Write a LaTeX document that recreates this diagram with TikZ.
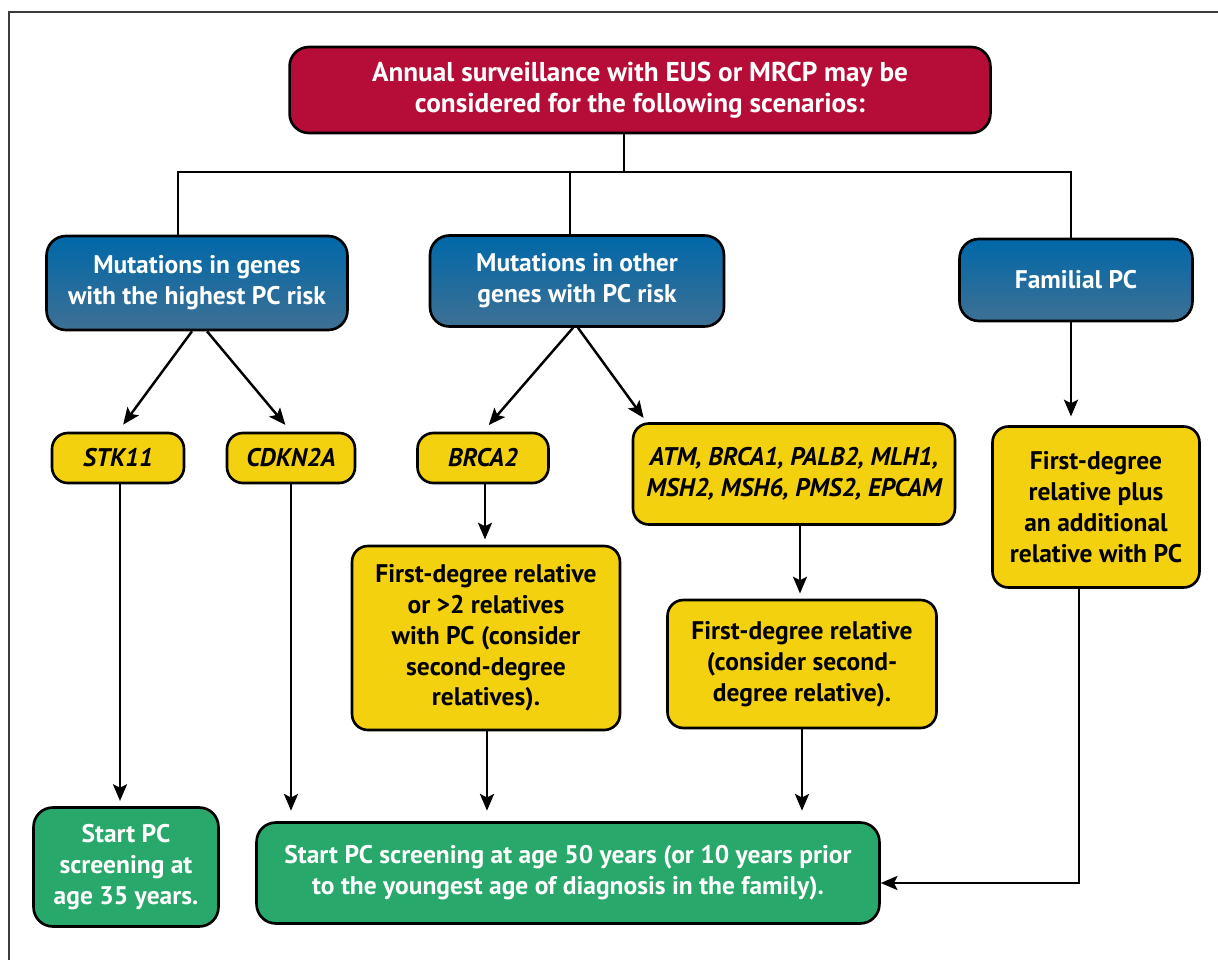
\documentclass[tikz,border=0pt]{standalone}
\usepackage{fontspec}
\setmainfont{PT Sans}
\usepackage{tikz}
\usetikzlibrary{arrows.meta}
\definecolor{topred}{RGB}{181, 13, 55}
\definecolor{blueup}{RGB}{0, 104, 168}
\definecolor{bluedown}{RGB}{62, 112, 148}
\definecolor{geneyellow}{RGB}{244, 209, 15}
\definecolor{startgreen}{RGB}{40, 168, 106}
\definecolor{framegray}{RGB}{60, 60, 60}

\tikzset{
  box/.style={draw=black, line width=1.5pt, rounded corners=11pt, inner sep=0pt,
    align=center, font=\fontsize{14.5}{17.5}\selectfont\bfseries},
  headbox/.style={box, fill=topred, text=white, font=\fontsize{15.5}{18}\selectfont\bfseries},
  groupbox/.style={box, top color=blueup, bottom color=bluedown, text=white},
  genebox/.style={box, fill=geneyellow, text=black, rounded corners=9pt},
  startbox/.style={box, fill=startgreen, text=white},
  link/.style={line width=1.4pt, black},
  arr/.style={link, -{Stealth[length=9.5pt,width=8pt,inset=2pt]}}
}

\begin{document}
\begin{tikzpicture}[x=0.02cm, y=-0.02cm]
  \useasboundingbox (0,0) rectangle (1218,960);
  \draw[framegray, line width=1.2pt] (9,960) -- (9,12) -- (1218,12);

  \node[headbox, minimum width=14.02cm, minimum height=1.72cm] (head) at (640,90)
    {Annual surveillance with EUS or MRCP may be\\considered for the following scenarios:};

  \node[groupbox, minimum width=6.02cm, minimum height=1.88cm] (highest) at (197,283)
    {Mutations in genes\\with the highest PC risk};
  \node[groupbox, minimum width=5.88cm, minimum height=1.82cm] (other) at (577,281)
    {Mutations in other\\genes with PC risk};
  \node[groupbox, minimum width=4.66cm, minimum height=1.64cm] (familial) at (1076,280)
    {Familial PC};

  \node[genebox, minimum width=2.64cm, minimum height=1cm] (stk) at (118,458)
    {\itshape STK11};
  \node[genebox, minimum width=2.56cm, minimum height=1cm] (cdkn) at (291,458)
    {\itshape CDKN2A};
  \node[genebox, minimum width=2.62cm, minimum height=1cm] (brca) at (483,458)
    {\itshape BRCA2};
  \node[genebox, minimum width=6.44cm, minimum height=2.02cm] (atm) at (794,474)
    {\itshape ATM, BRCA1, PALB2, MLH1,\\\itshape MSH2, MSH6, PMS2, EPCAM};
  \node[genebox, minimum width=4.14cm, minimum height=3.22cm] (famrel) at (1096,507)
    {First-degree\\relative plus\\an additional\\relative with PC};

  \node[genebox, minimum width=5.36cm, minimum height=3.68cm] (brcarel) at (486,638)
    {First-degree relative\\or >2 relatives\\with PC (consider\\second-degree\\relatives).};
  \node[genebox, minimum width=5.38cm, minimum height=2.56cm] (atmrel) at (802,664)
    {First-degree relative\\(consider second-\\degree relative).};

  \node[startbox, minimum width=3.7cm, minimum height=2.38cm] (early) at (126,867)
    {Start PC\\screening at\\age 35 years.};
  \node[startbox, minimum width=12.46cm, minimum height=2.02cm] (later) at (568,873)
    {Start PC screening at age 50 years (or 10 years prior\\to the youngest age of diagnosis in the family).};

  \coordinate (split) at (624,172);
  \coordinate (splitl) at (178,172);
  \coordinate (splitm) at (570,172);
  \coordinate (splitr) at (1071,172);

  \draw[link] (head.south -| split) -- (split);
  \draw[link] (splitl |- highest.north) -- (splitl) -- (splitr) -- (splitr |- familial.north);
  \draw[link] (splitm) -- (splitm |- other.north);

  \draw[arr, shorten >=5pt] ([xshift=-0.1cm]highest.south) -- (stk.north);
  \draw[arr, shorten >=5pt] ([xshift=0.2cm]highest.south) -- (cdkn.north);
  \draw[arr, shorten >=5pt] ([xshift=-0.08cm]other.south) -- (brca.north);
  \draw[arr, shorten >=3pt] ([xshift=0.02cm]other.south) -- ([xshift=0.3cm]atm.north west);
  \draw[arr, shorten >=5pt] (splitr |- familial.south) -- (splitr |- famrel.north);

  \draw[arr, shorten >=3pt] ([xshift=0.04cm]stk.south) -- ([xshift=0.04cm]stk.south |- early.north);
  \draw[arr, shorten >=6pt] (cdkn.south) -- (cdkn.south |- later.north);
  \draw[arr, shorten >=3pt] ([xshift=0.04cm]brca.south) -- ([xshift=0.04cm]brca.south |- brcarel.north);
  \draw[arr, shorten >=6pt] ([xshift=0.02cm]brcarel.south) -- ([xshift=0.02cm]brcarel.south |- later.north);
  \draw[arr, shorten >=3pt] ([xshift=0.12cm]atm.south) -- ([xshift=0.12cm]atm.south |- atmrel.north);
  \draw[arr, shorten >=6pt] (atmrel.south) -- (atmrel.south |- later.north);
  \draw[arr] ([xshift=-0.34cm]famrel.south) |- ([yshift=-0.2cm]later.east);
\end{tikzpicture}
\end{document}
